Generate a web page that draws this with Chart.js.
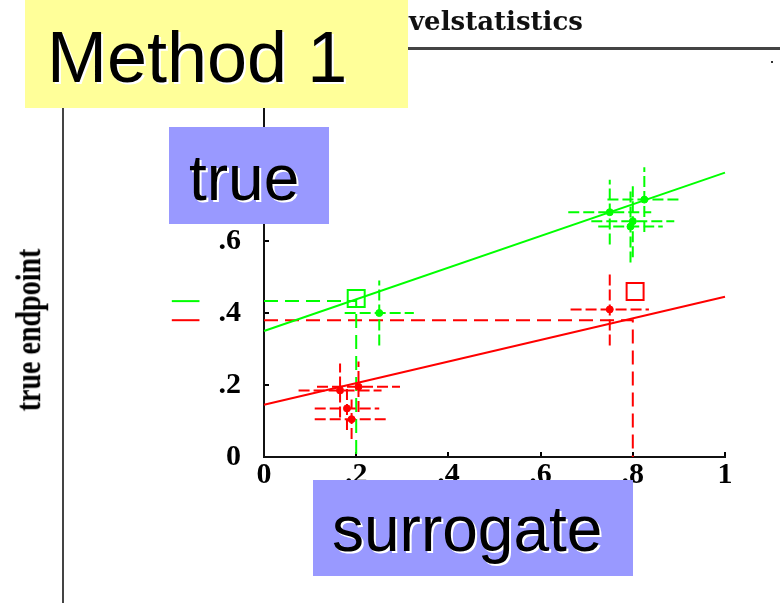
<!DOCTYPE html>
<html>
<head>
<meta charset="utf-8">
<script src="https://cdn.jsdelivr.net/npm/chart.js@4.4.0/dist/chart.umd.min.js"></script>
<style>
  body { margin: 0; background: #fff; }
  #slide { position: relative; width: 780px; height: 603px; overflow: hidden; background: #fff; }
  #chart { position: absolute; left: 0; top: 0; }
  .abs { position: absolute; white-space: nowrap; }
  .sans { font-family: "Liberation Sans", Arial, sans-serif; color: #000; text-shadow: 2px 2px 0 #fff; line-height: 64px; font-size: 64px; }
</style>
</head>
<body>
<div id="slide">
  <canvas id="chart" width="780" height="603"></canvas>

  <!-- slide decoration -->
  <div class="abs" style="left:408px;top:47px;width:372px;height:3px;background:#444;"></div>
  <div class="abs" style="left:771px;top:61px;width:2px;height:2px;background:#333;"></div>
  <div class="abs" style="left:62px;top:108px;width:2px;height:495px;background:#444;"></div>
  <div class="abs" style="left:409px;top:6px;font:bold 26px 'DejaVu Serif',serif;color:#111;">velstatistics</div>
  <div class="abs" style="left:28px;top:330px;transform:translate(-50%,-50%) rotate(-90deg) scale(1,1.3);font:bold 28px 'Liberation Serif',serif;color:#000;">true endpoint</div>

  <!-- text boxes -->
  <div class="abs" style="left:25px;top:0;width:383px;height:108px;background:#ffff99;"></div>
  <div class="abs sans" style="left:47px;top:21px;font-size:72px;line-height:72px;">Method 1</div>
  <div class="abs" style="left:169px;top:127px;width:160px;height:97px;background:#9999ff;"></div>
  <div class="abs sans" style="left:189px;top:146px;">true</div>
  <div class="abs" style="left:313px;top:480px;width:320px;height:96px;background:#9999ff;"></div>
  <div class="abs sans" style="left:332px;top:497px;">surrogate</div>
</div>

<script>
// green group: points with error bars
const greenX = [0.25, 0.75, 0.80, 0.825, 0.795];
const greenY = [0.40, 0.68, 0.655, 0.715, 0.64];
const greenXErr = [0.075, 0.09, 0.09, 0.08, 0.07];
const greenYErr = [0.09, 0.09, 0.10, 0.09, 0.10];

// red group: points with error bars
const redX = [0.165, 0.205, 0.18, 0.19, 0.75];
const redY = [0.185, 0.195, 0.135, 0.105, 0.41];
const redXErr = [0.09, 0.09, 0.07, 0.08, 0.085];
const redYErr = [0.075, 0.07, 0.06, 0.055, 0.10];

// open squares (new surrogate values)
const greenBoxX = [0.2];
const greenBoxY = [0.44];
const redBoxX = [0.805];
const redBoxY = [0.46];

// fitted lines
const fitX = [0, 1];
const greenFitY = [0.35, 0.79];
const redFitY = [0.145, 0.445];

// dashed prediction guides
const greenGuideX = [0, 0.2, 0.2];
const greenGuideY = [0.433, 0.433, 0];
const redGuideX = [0, 0.8, 0.8];
const redGuideY = [0.38, 0.38, 0];
// short stubs of the guides left of the axis
const stubX = [-0.2, -0.14];
const greenStubY = [0.433, 0.433];
const redStubY = [0.38, 0.38];

// axis ticks
const tickValues = [0, 0.2, 0.4, 0.6, 0.8, 1];
const tickLabels = ["0", ".2", ".4", ".6", ".8", "1"];

const GREEN = "#00ff00";
const RED = "#ff0000";

function zip(xs, ys) {
  let pts = [];
  for (let i = 0; i < xs.length; i++) {
    pts.push({ x: xs[i], y: ys[i] });
  }
  return pts;
}

/* horizontal + vertical segment for each point, broken by nulls */
function errorBars(xs, ys, xe, ye) {
  let pts = [];
  for (let i = 0; i < xs.length; i++) {
    pts.push({ x: xs[i] - xe[i], y: ys[i] }, { x: xs[i] + xe[i], y: ys[i] }, { x: xs[i], y: null });
    pts.push({ x: xs[i], y: ys[i] - ye[i] }, { x: xs[i], y: ys[i] + ye[i] }, { x: xs[i], y: null });
  }
  return pts;
}

function tickText(value) {
  let i = tickValues.findIndex((t) => Math.abs(t - value) < 1e-6);
  return i >= 0 ? tickLabels[i] : "";
}

const tickFont = { family: "'Liberation Serif', serif", weight: "bold", size: 30 };

function lineSet(data, color, dash, width) {
  return {
    data: data,
    showLine: true,
    spanGaps: false,
    borderColor: color,
    borderWidth: width,
    borderDash: dash,
    pointRadius: 0,
    pointHoverRadius: 0,
    fill: false,
    clip: false,
  };
}

new Chart(document.getElementById("chart"), {
  type: "scatter",
  data: {
    datasets: [
      {
        data: zip(greenX, greenY),
        pointRadius: 3.5,
        pointBackgroundColor: GREEN,
        pointBorderColor: GREEN,
        showLine: false,
      },
      {
        data: zip(redX, redY),
        pointRadius: 3.5,
        pointBackgroundColor: RED,
        pointBorderColor: RED,
        showLine: false,
      },
      {
        data: zip(greenBoxX, greenBoxY),
        pointStyle: "rect",
        pointRadius: 12,
        pointBorderWidth: 2,
        pointBorderColor: GREEN,
        pointBackgroundColor: "rgba(0,0,0,0)",
        showLine: false,
      },
      {
        data: zip(redBoxX, redBoxY),
        pointStyle: "rect",
        pointRadius: 12,
        pointBorderWidth: 2,
        pointBorderColor: RED,
        pointBackgroundColor: "rgba(0,0,0,0)",
        showLine: false,
      },
      lineSet(errorBars(greenX, greenY, greenXErr, greenYErr), GREEN, [11, 4], 2),
      lineSet(errorBars(redX, redY, redXErr, redYErr), RED, [11, 4], 2),
      lineSet(zip(fitX, greenFitY), GREEN, [], 2),
      lineSet(zip(fitX, redFitY), RED, [], 2),
      lineSet(zip(greenGuideX, greenGuideY), GREEN, [14, 7], 2),
      lineSet(zip(redGuideX, redGuideY), RED, [14, 7], 2),
      lineSet(zip(stubX, greenStubY), GREEN, [], 2),
      lineSet(zip(stubX, redStubY), RED, [], 2),
    ],
  },
  options: {
    responsive: false,
    animation: false,
    events: [],
    layout: { padding: { left: 0, top: 97, right: 55, bottom: 106 } },
    plugins: { legend: { display: false }, tooltip: { enabled: false } },
    scales: {
      x: {
        type: "linear",
        min: 0,
        max: 1,
        afterFit: (s) => { s.height = 40; },
        afterBuildTicks: (s) => { s.ticks = tickValues.map((v) => ({ value: v })); },
        ticks: { callback: tickText, font: tickFont, color: "#000", padding: 5, maxRotation: 0 },
        grid: { drawOnChartArea: false, drawTicks: true, tickLength: -5, color: "#000", lineWidth: 2 },
        border: { color: "#111", width: 2 },
      },
      y: {
        type: "linear",
        min: 0,
        max: 1,
        afterFit: (s) => { s.width = 264; },
        afterBuildTicks: (s) => { s.ticks = tickValues.map((v) => ({ value: v })); },
        ticks: { callback: tickText, font: tickFont, color: "#000", padding: 28 },
        grid: { drawOnChartArea: false, drawTicks: true, tickLength: -5, color: "#000", lineWidth: 2 },
        border: { color: "#111", width: 2 },
      },
    },
  },
});
</script>
</body>
</html>
